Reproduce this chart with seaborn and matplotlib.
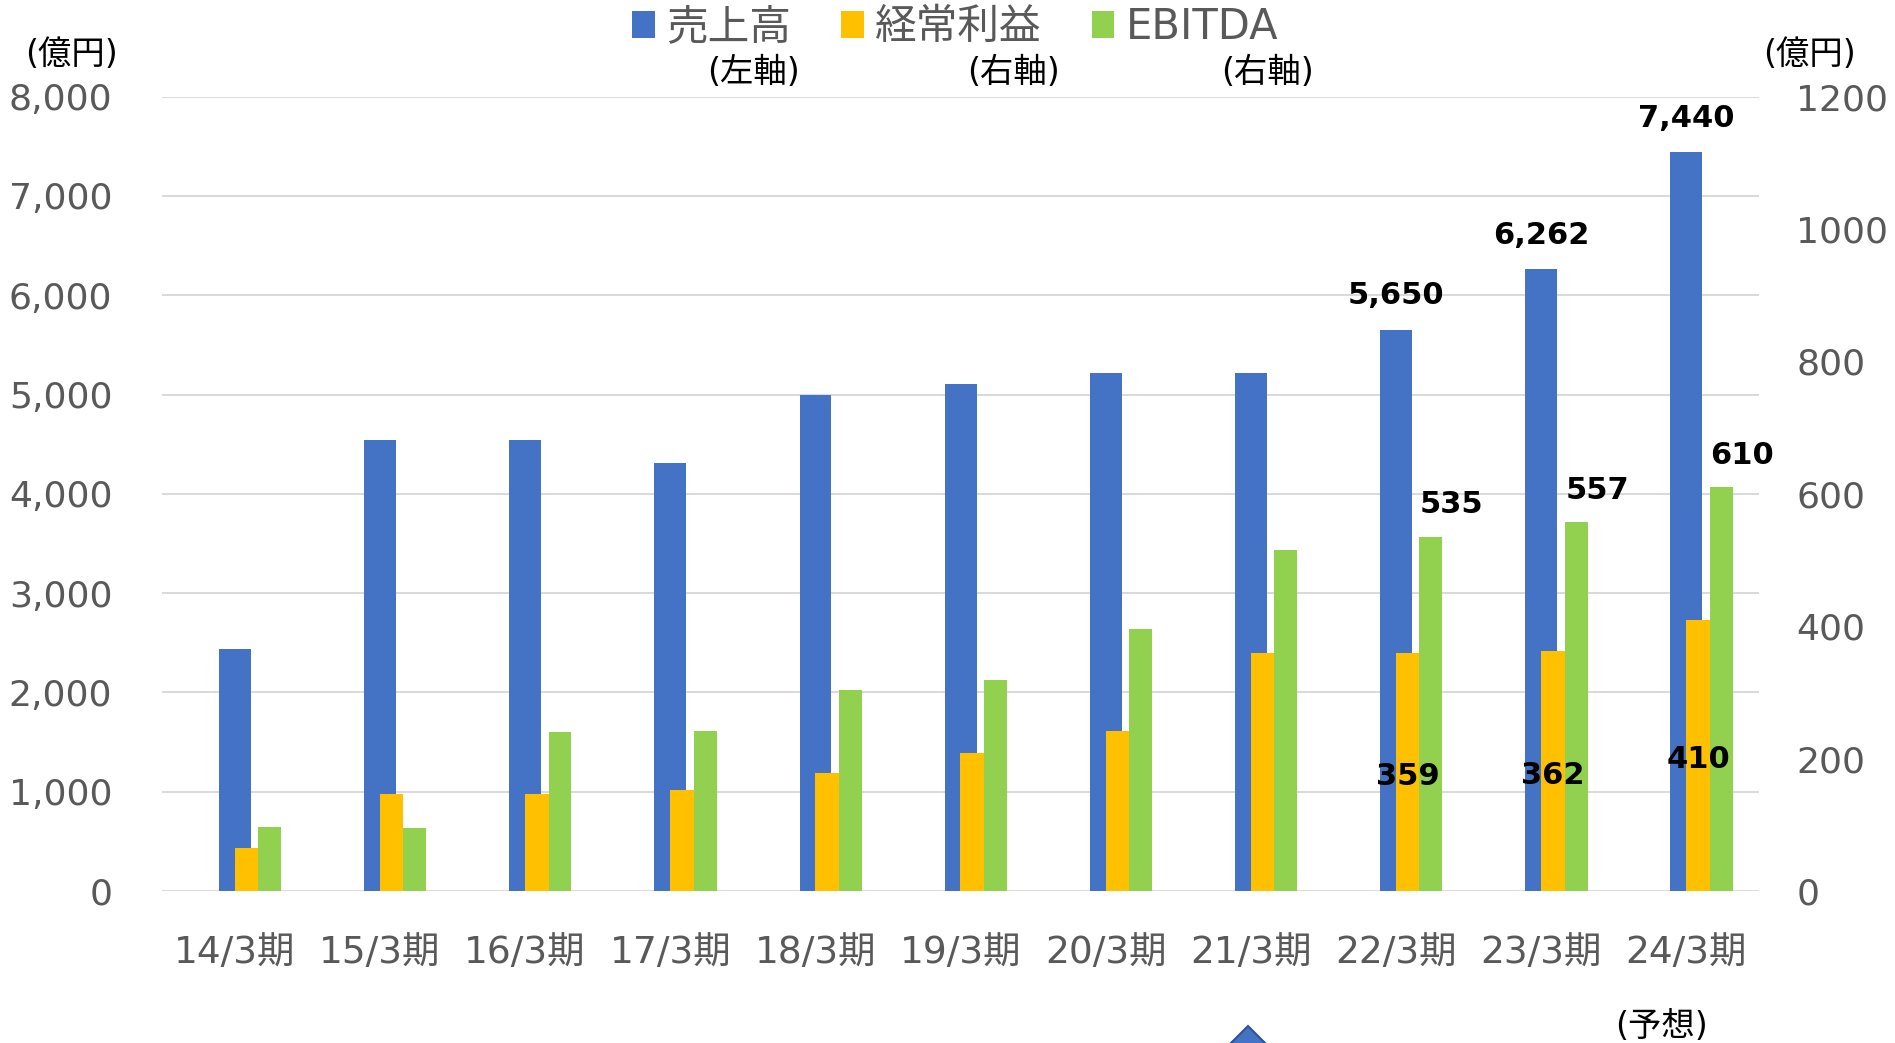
import numpy as np
import matplotlib
matplotlib.use("Agg")
import matplotlib.pyplot as plt
from matplotlib.patches import Patch, Polygon
import seaborn as sns

# ---- data ----
categories = ["14/3期", "15/3期", "16/3期", "17/3期", "18/3期", "19/3期",
              "20/3期", "21/3期", "22/3期", "23/3期", "24/3期"]
sales = [2440, 4540, 4540, 4310, 5000, 5110, 5220, 5220, 5650, 6262, 7440]      # 売上高 (left axis)
ordinary_profit = [65, 147, 147, 153, 178, 208, 241, 360, 359, 362, 410]        # 経常利益 (right axis)
ebitda = [96, 95, 240, 241, 303, 318, 396, 515, 535, 557, 610]                  # EBITDA (right axis)
labelled = [8, 9, 10]
left_ticks = [0, 1000, 2000, 3000, 4000, 5000, 6000, 7000, 8000]
right_ticks = [0, 200, 400, 600, 800, 1000, 1200]
legend_labels = ["売上高", "経常利益", "EBITDA"]
axis_notes = ["(左軸)", "(右軸)", "(右軸)"]

BLUE, ORANGE, GREEN = "#4472C4", "#FFC000", "#92D050"
GRAY = "#595959"
GRID = "#D9D9D9"

sns.set_theme(style="white")
plt.rcParams["font.family"] = ["DejaVu Sans", "Noto Sans CJK JP"]

W, H = 1895, 1043
fig = plt.figure(figsize=(W / 100, H / 100), dpi=100)
x0, x1, ybot, ytop = 162.3, 1759, 891, 96.6
ax = fig.add_axes([x0 / W, (H - ybot) / H, (x1 - x0) / W, (ybot - ytop) / H])
ax2 = ax.twinx()

xs = np.arange(len(categories))
sns.barplot(x=xs, y=sales, color=BLUE, width=0.22, ax=ax, native_scale=True,
            saturation=1, linewidth=0, zorder=2)
ax2.bar(xs + 0.08, ordinary_profit, width=0.163, color=ORANGE, linewidth=0, zorder=3)
ax2.bar(xs + 0.24, ebitda, width=0.158, color=GREEN, linewidth=0, zorder=3)

ax.set_xlim(-0.5, len(categories) - 0.5)
ax.set_ylim(0, 8000)
ax2.set_ylim(0, 1200)
ax.set_yticks(left_ticks)
ax.set_yticklabels([f"{t:,}" for t in left_ticks])
ax2.set_yticks(right_ticks)
ax2.set_yticklabels([str(t) for t in right_ticks])
ax.set_xticks(xs)
ax.set_xticklabels(categories)

ax.grid(axis="y", color=GRID, linewidth=1.4, zorder=0)
ax.grid(axis="x", visible=False)
ax2.grid(False)
ax.set_axisbelow(True)
for a in (ax, ax2):
    for s in a.spines.values():
        s.set_visible(False)
ax.tick_params(axis="y", length=0, labelsize=26, labelcolor=GRAY, pad=36)
ax.tick_params(axis="x", length=0, labelsize=27, labelcolor=GRAY, pad=32)
ax2.tick_params(axis="y", length=0, labelsize=26, labelcolor=GRAY, pad=27)
ax.set_xlabel("")
ax.set_ylabel("")

# data labels
for i in labelled:
    ax.annotate(f"{sales[i]:,}", (xs[i], sales[i]), xytext=(0, 24.5),
                textcoords="offset points", ha="center", va="center",
                fontsize=22, fontweight="bold", color="black")
    ax2.text(xs[i] + 0.08, ordinary_profit[i] / 2 - 6, f"{ordinary_profit[i]}",
             ha="center", va="center", fontsize=22, fontweight="bold",
             color="black", zorder=5)
    ax2.annotate(f"{ebitda[i]}", (xs[i] + 0.24, ebitda[i]), xytext=(15, 23),
                 textcoords="offset points", ha="center", va="center",
                 fontsize=22, fontweight="bold", color="black")

# legend
handles = [Patch(facecolor=c, edgecolor="none") for c in (BLUE, ORANGE, GREEN)]
leg = fig.legend(handles, legend_labels, loc="center", bbox_to_anchor=(0.504, 0.974),
                 ncol=3, frameon=False, fontsize=30, handlelength=0.55,
                 handleheight=0.6, handletextpad=0.27, columnspacing=1.2,
                 borderpad=0, borderaxespad=0)
for t in leg.get_texts():
    t.set_color(GRAY)

for note, px in zip(axis_notes, [753, 1013, 1267]):
    fig.text(px / W, 1 - 73 / H, note, ha="center", va="center", fontsize=24, color="black")

fig.text(71 / W, 1 - 54 / H, "(億円)", ha="center", va="center", fontsize=24, color="black")
fig.text(1810 / W, 1 - 54 / H, "(億円)", ha="center", va="center", fontsize=24, color="black")
fig.text(1661 / W, 1 - 1026 / H, "(予想)", ha="center", va="center", fontsize=24, color="black")

# decorative diamond partly cut off at the bottom
cx, top, r = 1248, 1026, 32
pts = [(cx, top), (cx + r, top + r), (cx, top + 2 * r), (cx - r, top + r)]
fig.add_artist(Polygon([(px / W, 1 - py / H) for px, py in pts], closed=True,
                       transform=fig.transFigure, facecolor=BLUE,
                       edgecolor="#2F528F", linewidth=1.5))

fig.savefig("out.png", dpi=100)
